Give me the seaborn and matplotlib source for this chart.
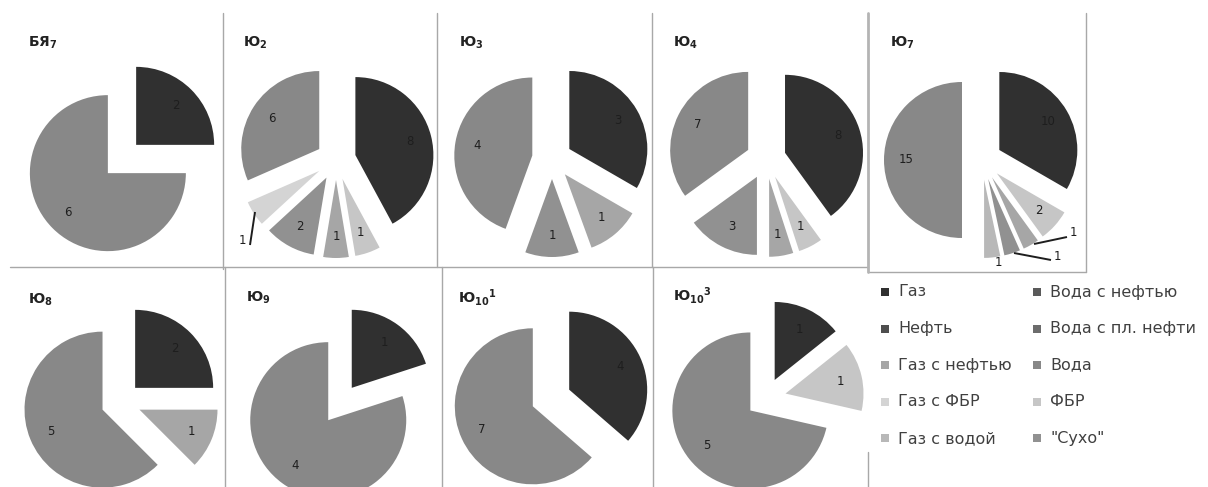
import matplotlib
matplotlib.use("Agg")
import matplotlib.pyplot as plt
import seaborn as sns

sns.set_theme(style="white")
plt.rcParams["font.family"] = ["DejaVu Sans"]
plt.rcParams["mathtext.default"] = "regular"

# Outcome categories (legend order)
CATEGORIES = ["Газ", "Нефть", "Газ с нефтью", "Газ с ФБР", "Газ с водой",
              "Вода с нефтью", "Вода с пл. нефти", "Вода", "ФБР", "\"Сухо\""]

# Per-formation counts, listed clockwise from 12 o'clock
by7_cats = ["Газ", "Вода"]
by7_vals = [2, 6]
yu2_cats = ["Газ", "ФБР", "Газ с нефтью", "\"Сухо\"", "Газ с ФБР", "Вода"]
yu2_vals = [8, 1, 1, 2, 1, 6]
yu3_cats = ["Газ", "Газ с нефтью", "\"Сухо\"", "Вода"]
yu3_vals = [3, 1, 1, 4]
yu4_cats = ["Газ", "ФБР", "Газ с нефтью", "\"Сухо\"", "Вода"]
yu4_vals = [8, 1, 1, 3, 7]
yu7_cats = ["Газ", "ФБР", "Газ с нефтью", "\"Сухо\"", "Газ с водой", "Вода"]
yu7_vals = [10, 2, 1, 1, 1, 15]
yu8_cats = ["Газ", "Газ с нефтью", "Вода"]
yu8_vals = [2, 1, 5]
yu9_cats = ["Газ", "Вода"]
yu9_vals = [1, 4]
yu10_1_cats = ["Газ", "Вода"]
yu10_1_vals = [4, 7]
yu10_3_cats = ["Газ", "ФБР", "Вода"]
yu10_3_vals = [1, 1, 5]

titles = ["БЯ$_7$", "Ю$_2$", "Ю$_3$", "Ю$_4$", "Ю$_7$",
          "Ю$_8$", "Ю$_9$", "Ю$_{10}$$^1$", "Ю$_{10}$$^3$"]

# Grey shade of each category
GRAYS = dict(zip(CATEGORIES, ["#303030", "#4e4e4e", "#a6a6a6", "#d4d4d4", "#b8b8b8",
                              "#5a5a5a", "#6c6c6c", "#888888", "#c6c6c6", "#919191"]))

W, H = 1208, 487
fig = plt.figure(figsize=(W / 100, H / 100), dpi=100)
ax = fig.add_axes([0, 0, 1, 1])

# Layout in pixel units (origin top-left): pie centre and title anchor
panels = [
    (titles[0], by7_cats, by7_vals, (122, 159), (28, 43)),
    (titles[1], yu2_cats, yu2_vals, (336, 160), (243, 43)),
    (titles[2], yu3_cats, yu3_vals, (552, 159), (459, 43)),
    (titles[3], yu4_cats, yu4_vals, (766, 159), (673, 43)),
    (titles[4], yu7_cats, yu7_vals, (982, 160), (890, 43)),
    (titles[5], yu8_cats, yu8_vals, (121, 402), (28, 300)),
    (titles[6], yu9_cats, yu9_vals, (340, 404), (246, 298)),
    (titles[7], yu10_1_cats, yu10_1_vals, (551, 398), (458, 297)),
    (titles[8], yu10_3_cats, yu10_3_vals, (766, 398), (673, 295)),
]

# Small slices whose value sits outside the pie, with a leader line
outside_labels = {
    (1, 4): ((242, 240), [(250, 245), (255, 212)]),
    (4, 2): ((1073, 232), [(1067, 237), (1034, 244)]),
    (4, 3): ((1057, 257), [(1051, 260), (1014, 253)]),
    (4, 4): ((998, 263), None),
}

RADIUS = 78
EXPLODE = 20


def value_fmt(vals):
    total = sum(vals)
    return lambda p: f"{round(p * total / 100)}"


for k, (title, cats, vals, (cx, cy), (tx, ty)) in enumerate(panels):
    wedges, texts, autotexts = ax.pie(
        vals, colors=[GRAYS[c] for c in cats], explode=[EXPLODE] * len(vals),
        radius=RADIUS, center=(cx, cy), startangle=-90, counterclock=True,
        autopct=value_fmt(vals), pctdistance=0.72, frame=True,
        wedgeprops=dict(linewidth=0),
        textprops=dict(fontsize=8.5, color="#1e1e1e"))
    for (pk, idx), (pos, line) in outside_labels.items():
        if pk == k:
            autotexts[idx].set_position(pos)
            if line is not None:
                ax.plot([line[0][0], line[1][0]], [line[0][1], line[1][1]],
                        color="#1e1e1e", lw=1.4, solid_capstyle="butt")
    ax.text(tx, ty, title, fontsize=10, fontweight="bold", color="#222222",
            ha="left", va="center")

# Chart frames
frame_lines = [
    ((223, 13), (223, 269)), ((437, 13), (437, 267)), ((652, 13), (652, 267)),
    ((1086, 13), (1086, 272)), ((10, 267), (868, 267)), ((868, 272), (1086, 272)),
    ((225, 267), (225, 487)), ((442, 267), (442, 487)), ((653, 267), (653, 487)),
    ((868, 452), (868, 487)),
]
for (x0, y0), (x1, y1) in frame_lines:
    ax.plot([x0, x1], [y0, y1], color="#a8a8a8", lw=1.0)
ax.plot([868, 868], [13, 272], color="#b4b4b4", lw=2.0)

# Legend in two columns
for i, cat in enumerate(CATEGORIES):
    col, row = divmod(i, 5)
    x_sq = [885, 1037][col]
    y = 292 + row * 36.6
    ax.scatter([x_sq], [y], marker="s", s=40, color=GRAYS[cat], linewidths=0)
    ax.text(x_sq + 13, y, cat, fontsize=11.5, color="#404040", ha="left", va="center")

ax.set_xlim(0, W)
ax.set_ylim(H, 0)
ax.set_aspect("auto")
ax.set_axis_off()

fig.savefig("out.png", dpi=100, facecolor="white")
